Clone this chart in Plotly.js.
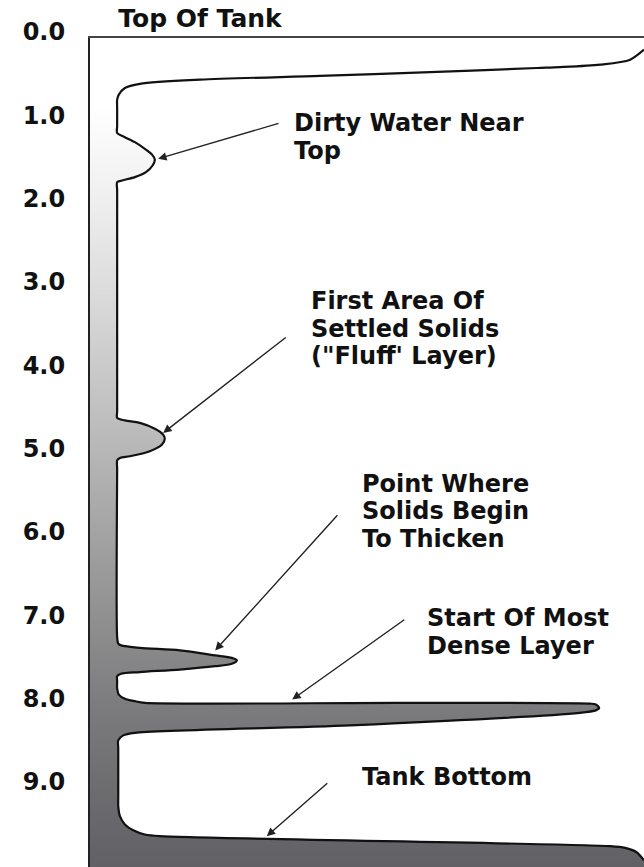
<!DOCTYPE html>
<html>
<head>
<meta charset="utf-8">
<script src="https://cdn.plot.ly/plotly-3.0.1.min.js"></script>
<style>html,body{margin:0;padding:0;background:#fff;}#chart{width:644px;height:867px;}</style>
</head>
<body>
<div id="chart"></div>
<script>
// Depth ticks (feet from top of tank)
const depthTicks = [0, 1, 2, 3, 4, 5, 6, 7, 8, 9];
const depthTickLabels = ["0.0", "1.0", "2.0", "3.0", "4.0", "5.0", "6.0", "7.0", "8.0", "9.0"];

// Sludge profile: relative density/thickness (x, 0-100) vs depth (y)
const profileX = [100, 97.5, 92.1, 84.8, 80.7, 61.4, 41.5, 19.9, 9.0, 6.3, 5.2, 4.9, 4.9, 4.9,
  4.9, 6.3, 8.1, 9.9, 11.2, 11.7, 11.3, 10.1, 8.1, 5.8, 4.9, 4.9, 4.9,
  4.9, 6.3, 9.0, 11.7, 13.2, 13.5, 13.0, 10.8, 7.2, 5.4, 4.9, 4.9, 4.9,
  5.1, 5.6, 9.0, 16.2, 22.6, 25.6, 26.5, 25.6, 22.6, 16.2, 9.0, 5.6, 4.9, 4.9,
  4.9, 5.2, 6.3, 8.1, 9.9, 56.0, 90.3, 91.3, 91.9, 91.3, 88.4, 46.9, 8.1, 6.0, 5.1, 5.1, 5.1,
  5.1, 5.4, 6.3, 7.8, 9.9, 12.6, 93.9, 96.6, 98.6, 100];
const profileDepth = [0.14, 0.26, 0.32, 0.35, 0.36, 0.41, 0.455, 0.50, 0.55, 0.60, 0.68, 0.74, 0.84, 1.06,
  1.14, 1.19, 1.25, 1.33, 1.40, 1.46, 1.53, 1.61, 1.67, 1.71, 1.73, 1.83, 4.48,
  4.56, 4.59, 4.62, 4.69, 4.76, 4.81, 4.88, 4.96, 5.02, 5.04, 5.07, 5.17, 7.19,
  7.27, 7.29, 7.32, 7.35, 7.41, 7.44, 7.47, 7.51, 7.54, 7.58, 7.61, 7.63, 7.66, 7.72,
  7.81, 7.88, 7.93, 7.96, 7.98, 7.98, 7.99, 8.00, 8.04, 8.07, 8.10, 8.25, 8.34, 8.37, 8.43, 8.53, 9.12,
  9.22, 9.34, 9.44, 9.51, 9.56, 9.58, 9.70, 9.72, 9.77, 9.87];

// Callout labels, their text anchor (left x, middle depth) and arrow tail/tip (x, depth)
const labelTexts = ["Dirty Water Near<br>Top", "First Area Of<br>Settled Solids<br>(\"Fluff' Layer)",
  "Point Where<br>Solids Begin<br>To Thicken", "Start Of Most<br>Dense Layer", "Tank Bottom"];
const labelX = [36.5, 39.5, 48.7, 60.5, 48.7];
const labelDepth = [1.19, 3.49, 5.68, 7.13, 8.87];
const arrowTailX = [34.3, 35.6, 44.9, 57.0, 43.1];
const arrowTailDepth = [1.02, 3.58, 5.71, 6.97, 8.93];
const arrowTipX = [12.3, 13.2, 22.6, 36.5, 31.9];
const arrowTipDepth = [1.45, 4.74, 7.35, 7.94, 9.58];

const FONT = "DejaVu Sans, Arial, sans-serif";
const LINE_GAP = 0.33; // depth units between text lines

const fillX = [0, 100].concat(profileX, [100, 0]);
const fillY = [0, 0].concat(profileDepth, [10.5, 10.5]);

const traces = [
  {
    type: "scatter", mode: "lines", x: fillX, y: fillY, fill: "toself",
    line: {width: 0, color: "rgba(0,0,0,0)", shape: "spline", smoothing: 0.8},
    fillgradient: {
      type: "vertical", start: 0, stop: 10,
      colorscale: [[0, "#ffffff"], [0.08, "#ffffff"], [0.2, "#eeeeee"], [0.3, "#dcdcdc"],
        [0.4, "#c9c9c9"], [0.5, "#b6b6b6"], [0.6, "#a2a2a2"], [0.7, "#8f8f90"],
        [0.8, "#7c7c7e"], [0.9, "#6d6d70"], [1, "#606065"]]
    },
    hoverinfo: "skip", showlegend: false
  },
  {
    type: "scatter", mode: "lines", x: profileX, y: profileDepth,
    line: {color: "#111111", width: 2.2, shape: "spline", smoothing: 0.8},
    hoverinfo: "skip", showlegend: false
  }
];

const annotations = [];
for (let i = 0; i < labelTexts.length; i++) {
  annotations.push({
    x: arrowTipX[i], y: arrowTipDepth[i], xref: "x", yref: "y",
    ax: arrowTailX[i], ay: arrowTailDepth[i], axref: "x", ayref: "y",
    text: "", showarrow: true, arrowhead: 2, arrowsize: 1.2, arrowwidth: 1.4,
    arrowcolor: "#222222", standoff: 0, startstandoff: 0
  });
  const lines = labelTexts[i].split("<br>");
  lines.forEach(function (ln, j) {
    annotations.push({
      x: labelX[i], y: labelDepth[i] + (j - (lines.length - 1) / 2) * LINE_GAP, xref: "x", yref: "y",
      text: ln, showarrow: false, xanchor: "left", yanchor: "middle", align: "left",
      font: {family: FONT, size: 24, color: "#111111", weight: "bold"}
    });
  });
}

const layout = {
  width: 644, height: 867,
  margin: {l: 90, r: 0, t: 38, b: 0, pad: 0},
  paper_bgcolor: "#ffffff", plot_bgcolor: "#ffffff",
  title: {text: "Top Of Tank", x: 200 / 644, y: 1 - 18 / 867, xanchor: "center", yanchor: "middle",
    xref: "container", yref: "container",
    font: {family: FONT, size: 25, color: "#111111", weight: "bold"}},
  showlegend: false,
  xaxis: {range: [0, 100], side: "top", showline: true, linecolor: "#444444", linewidth: 2,
    showgrid: false, zeroline: false, showticklabels: false, ticks: "", fixedrange: true},
  yaxis: {range: [9.95, 0], showline: true, linecolor: "#222222", linewidth: 2,
    showgrid: false, zeroline: false, tickvals: depthTicks, ticktext: depthTickLabels,
    ticks: "", ticklabelstandoff: 18, ticklabelshift: 6,
    tickfont: {family: FONT, size: 24, color: "#111111", weight: "bold"}, fixedrange: true},
  annotations: annotations
};

Plotly.newPlot("chart", traces, layout, {staticPlot: true, displayModeBar: false});
</script>
</body>
</html>
